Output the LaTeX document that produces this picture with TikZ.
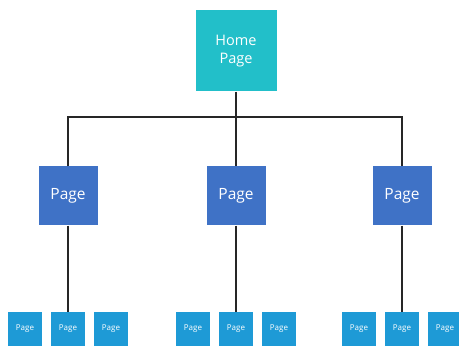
\documentclass[tikz,border=0pt]{standalone}
\usepackage{fontspec}
\setmainfont{Open Sans}
\definecolor{homec}{HTML}{22BFC9}
\definecolor{midc}{HTML}{3F72C6}
\definecolor{leafc}{HTML}{1E9AD6}
\begin{document}
\begin{tikzpicture}[x=1pt,y=-1pt,
  homebox/.style={fill=homec,minimum width=81pt,minimum height=81pt,inner sep=0pt,text=white,font=\fontsize{14.5}{18}\selectfont,align=center},
  midbox/.style={fill=midc,minimum width=59pt,minimum height=59pt,inner sep=0pt,text=white,font=\fontsize{15.5}{18}\selectfont},
  leafbox/.style={fill=leafc,minimum width=34pt,minimum height=34pt,inner sep=0pt,text=white,font=\fontsize{8}{9}\selectfont},
  conn/.style={line width=2.6pt,black!85}]
\useasboundingbox (0,0) rectangle (459,350);
\coordinate (hl) at (68,117);
\coordinate (hm) at (236,117);
\coordinate (hr) at (402,117);
\node[homebox] (home) at (236,51) {Home\\Page};
\node[midbox] (m1) at (68,196) {Page};
\node[midbox] (m2) at (236,196) {Page};
\node[midbox] (m3) at (402,196) {Page};
\foreach \g/\c in {1/68,2/236,3/402}{
  \node[leafbox] (l\g a) at (\c-43,329) {Page};
  \node[leafbox] (l\g b) at (\c,329) {Page};
  \node[leafbox] (l\g c) at (\c+43,329) {Page};
}
\draw[conn] (home.south) -- (hm);
\draw[conn] (m1.north) |- (hl) -- (hr) -| (m3.north);
\draw[conn] (hm) -- (m2.north);
\draw[conn] (m1.south) -- (l1b.north);
\draw[conn] (m2.south) -- (l2b.north);
\draw[conn] (m3.south) -- (l3b.north);
\end{tikzpicture}
\end{document}
